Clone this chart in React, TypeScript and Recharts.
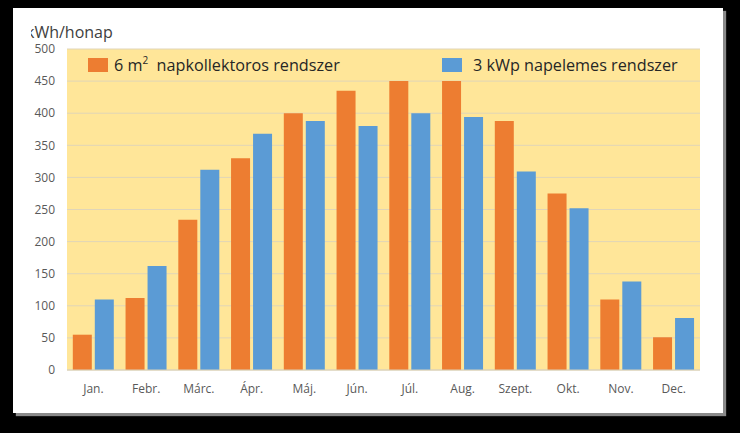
import { BarChart, Bar, XAxis, YAxis, CartesianGrid } from "recharts";

const months = ["Jan.", "Febr.", "Márc.", "Ápr.", "Máj.", "Jún.", "Júl.", "Aug.", "Szept.", "Okt.", "Nov.", "Dec."];
const kollektor = [55, 112, 234, 330, 400, 435, 450, 450, 388, 275, 110, 51];
const napelem = [110, 162, 312, 368, 388, 380, 400, 394, 309, 252, 138, 81];
const yTicks = [0, 50, 100, 150, 200, 250, 300, 350, 400, 450, 500];

const ORANGE = "#ED7D31";
const BLUE = "#5B9BD5";
const FONT = "'Open Sans', 'Noto Sans', sans-serif";

const data = months.map((m, i) => ({ month: m, kollektor: kollektor[i], napelem: napelem[i] }));

export default function App() {
  return (
    <div style={{ position: "fixed", left: 0, top: 0, width: 740, height: 433, background: "#000", fontFamily: FONT }}>
      <div
        style={{
          position: "absolute",
          left: 13,
          top: 8,
          width: 710,
          height: 405,
          background: "#fff",
          boxShadow: "3px 3px 1px #8a8a8a",
        }}
      >
        {/* axis title, first letter clipped like in the source */}
        <div style={{ position: "absolute", left: 18, top: 15, width: 100, height: 19, overflow: "hidden" }}>
          <div style={{ marginLeft: -5, fontSize: 16, color: "#404040", whiteSpace: "nowrap", lineHeight: "19px" }}>
            kWh/honap
          </div>
        </div>

        <BarChart
          width={710}
          height={405}
          data={data}
          margin={{ top: 41, right: 23, left: 0, bottom: 13 }}
          barCategoryGap="11%"
          barGap={3}
        >
          <CartesianGrid vertical={false} fill="#FFE699" stroke="#E0D5B8" />
          <XAxis
            dataKey="month"
            height={30}
            tickLine={false}
            tickSize={0}
            tickMargin={14}
            axisLine={{ stroke: "#D9D0B8" }}
            tick={{ fill: "#595959", fontSize: 12, fontFamily: FONT }}
          />
          <YAxis
            width={54}
            domain={[0, 500]}
            ticks={yTicks}
            interval={0}
            tickLine={false}
            axisLine={false}
            tickSize={0}
            tickMargin={12}
            tick={{ fill: "#595959", fontSize: 12, fontFamily: FONT }}
          />
          <Bar dataKey="kollektor" fill={ORANGE} isAnimationActive={false} />
          <Bar dataKey="napelem" fill={BLUE} isAnimationActive={false} />
        </BarChart>

        {/* legend */}
        <div style={{ position: "absolute", left: 75, top: 50, width: 20, height: 14, background: ORANGE }} />
        <div style={{ position: "absolute", left: 101, top: 45, fontSize: 16.2, color: "#262626", whiteSpace: "nowrap", lineHeight: "24px" }}>
          6 m<sup style={{ fontSize: 10, verticalAlign: "top", lineHeight: "14px" }}>2</sup>
          {"\u00a0 napkollektoros rendszer"}
        </div>
        <div style={{ position: "absolute", left: 429, top: 50, width: 20, height: 14, background: BLUE }} />
        <div style={{ position: "absolute", left: 460, top: 45, fontSize: 16.2, color: "#262626", whiteSpace: "nowrap", lineHeight: "24px" }}>
          3 kWp napelemes rendszer
        </div>
      </div>
    </div>
  );
}
